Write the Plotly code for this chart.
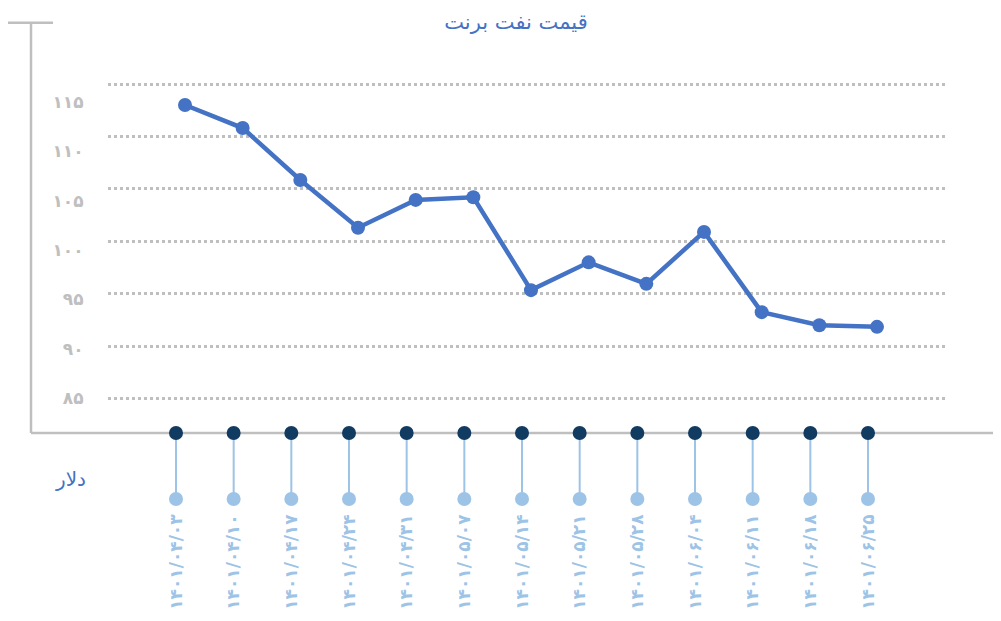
import plotly.graph_objects as go

# ---- data ----
dates = ["۱۴۰۱/۰۴/۰۳", "۱۴۰۱/۰۴/۱۰", "۱۴۰۱/۰۴/۱۷", "۱۴۰۱/۰۴/۲۴", "۱۴۰۱/۰۴/۳۱",
         "۱۴۰۱/۰۵/۰۷", "۱۴۰۱/۰۵/۱۴", "۱۴۰۱/۰۵/۲۱", "۱۴۰۱/۰۵/۲۸", "۱۴۰۱/۰۶/۰۴",
         "۱۴۰۱/۰۶/۱۱", "۱۴۰۱/۰۶/۱۸", "۱۴۰۱/۰۶/۲۵"]
prices = [113.0, 110.8, 105.85, 101.3, 103.95, 104.2, 95.35, 98.0, 95.95, 100.9, 93.25, 92.0, 91.85]
y_ticks = [85, 90, 95, 100, 105, 110, 115]
y_tick_labels = ["۸۵", "۹۰", "۹۵", "۱۰۰", "۱۰۵", "۱۱۰", "۱۱۵"]
title_text = "قیمت نفت برنت"
unit_text = "دلار"

BLUE = "#4472C4"
LIGHT = "#9DC3E6"
DARK = "#123B62"
GRAY = "#BFBFBF"
FONT = "DejaVu Sans"

OFF = 8  # page body margin
W, H = 1001 - OFF, 621 - 2 * OFF
ML, MR, MT = 31 - OFF, 0, 22 - OFF
MB = H - (510 - OFF)
PW = W - ML - MR
PH = H - MT - MB


def px_x(p):
    return (p - OFF - ML) / PW


def px_y(p):
    return (H - MB - (p - OFF)) / PH


split = px_y(433)

fig = go.Figure()

fig.add_trace(go.Scatter(
    x=dates, y=prices, mode="lines+markers",
    line=dict(color=BLUE, width=4.5), marker=dict(size=14, color=BLUE),
    xaxis="x", yaxis="y", cliponaxis=False, hoverinfo="skip"))

# lollipops under the axis
stem_x, stem_y = [], []
for d in dates:
    stem_x += [d, d, None]
    stem_y += [1, 0, None]
fig.add_trace(go.Scatter(x=stem_x, y=stem_y, mode="lines",
                         line=dict(color=LIGHT, width=2),
                         xaxis="x2", yaxis="y2", cliponaxis=False, hoverinfo="skip"))
fig.add_trace(go.Scatter(x=dates, y=[0] * len(dates), mode="markers",
                         marker=dict(size=14, color=LIGHT),
                         xaxis="x2", yaxis="y2", cliponaxis=False, hoverinfo="skip"))
fig.add_trace(go.Scatter(x=dates, y=[1] * len(dates), mode="markers",
                         marker=dict(size=14, color=DARK),
                         xaxis="x2", yaxis="y2", cliponaxis=False, hoverinfo="skip"))
# invisible trace to hold the label axis
fig.add_trace(go.Scatter(x=[dates[0]], y=[100], mode="markers",
                         marker=dict(opacity=0), xaxis="x", yaxis="y3", hoverinfo="skip"))

fig.update_layout(
    width=W, height=H,
    margin=dict(l=ML, r=MR, t=MT, b=MB),
    paper_bgcolor="white", plot_bgcolor="white",
    showlegend=False, hovermode=False,
    title=dict(text=title_text, x=0.5, xref="paper", xanchor="center",
               y=1 - (22 - OFF) / H, yanchor="middle",
               font=dict(family=FONT, size=21, color=BLUE)),
    xaxis=dict(domain=[px_x(108), px_x(947)], type="category", anchor="y",
               range=[-(185 - 108) / 57.67, 12 + (947 - 877) / 57.67],
               showgrid=False, showticklabels=False, zeroline=False, showline=False),
    yaxis=dict(domain=[split, 1], anchor="x",
               range=[85 - (433 - 398.7) / 10.49, 115 + (84 - 22) / 10.49],
               tickvals=y_ticks, showticklabels=False, ticks="",
               showgrid=True, gridcolor=GRAY, griddash="dot", gridwidth=3,
               zeroline=False, showline=False),
    yaxis3=dict(overlaying="y", anchor="x", side="left",
                range=[85 - (433 - 398.3) / 9.887, 115 + (101.7 - 22) / 9.887],
                tickvals=y_ticks, ticktext=y_tick_labels,
                tickfont=dict(family=FONT, size=17, color=GRAY, weight="bold"),
                ticks="outside", ticklen=20, tickcolor="rgba(0,0,0,0)",
                showgrid=False, zeroline=False, showline=False),
    xaxis2=dict(domain=[0, 1], anchor="y2", type="category",
                range=[-(176 - 31) / 57.67, 12 + (1001 - 868) / 57.67],
                tickangle=-90,
                tickfont=dict(family=FONT, size=17, color=LIGHT, weight="bold"),
                ticks="", showgrid=False, zeroline=False, showline=False),
    yaxis2=dict(domain=[0, split], anchor="x2", range=[-11 / 66, 1], visible=False),
    shapes=[
        dict(type="line", xref="paper", yref="paper", x0=0, x1=0, y0=split, y1=px_y(22.7),
             line=dict(color=GRAY, width=2.5), layer="below"),
        dict(type="line", xref="paper", yref="paper", x0=px_x(8), x1=px_x(53),
             y0=px_y(22.7), y1=px_y(22.7), line=dict(color=GRAY, width=2.5), layer="below"),
        dict(type="line", xref="paper", yref="paper", x0=0, x1=1, y0=split, y1=split,
             line=dict(color=GRAY, width=2.5), layer="below"),
    ],
    annotations=[
        dict(text=unit_text, xref="paper", yref="paper", x=px_x(70), y=px_y(479),
             xanchor="center", yanchor="middle", showarrow=False,
             font=dict(family=FONT, size=20, color=BLUE)),
    ],
)

fig.write_html("out.html")
